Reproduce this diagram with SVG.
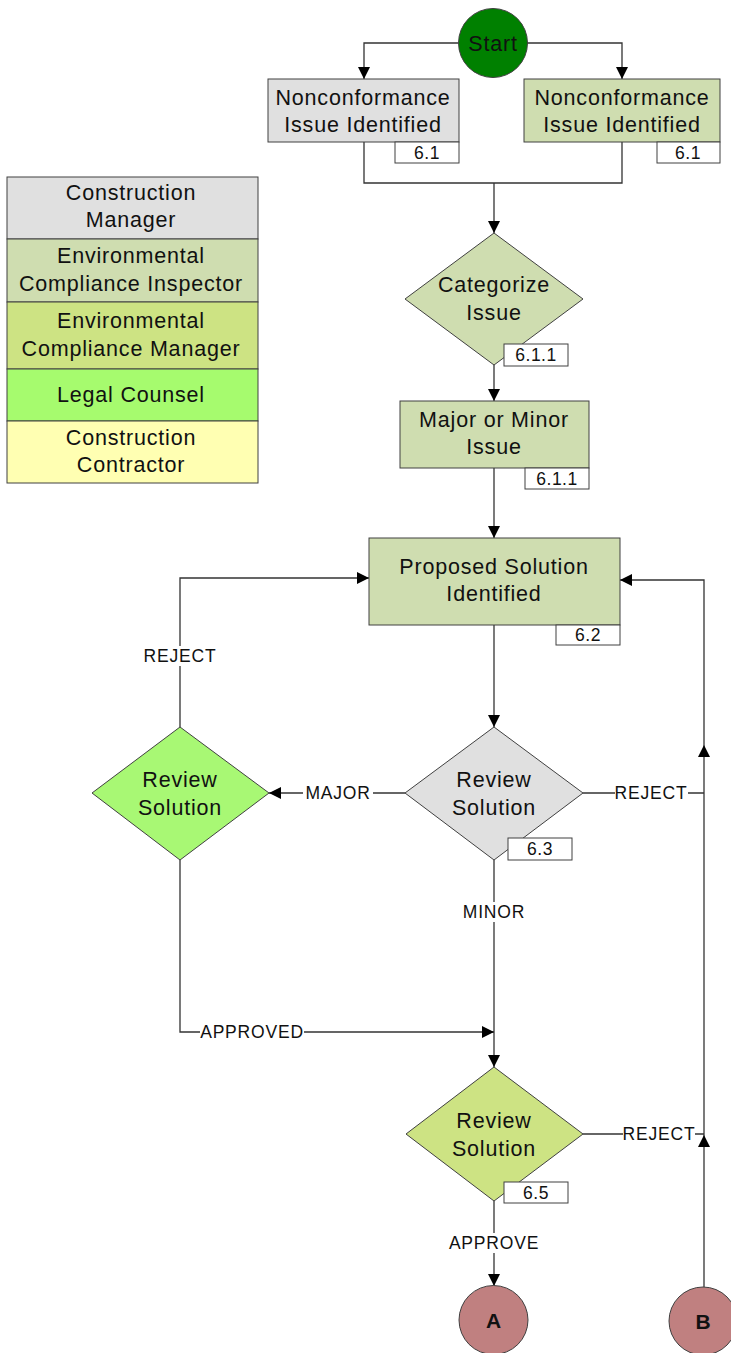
<svg xmlns="http://www.w3.org/2000/svg" width="731" height="1353" viewBox="0 0 731 1353">
<style>
text{font-family:"Liberation Sans",Arial,sans-serif;fill:#111;text-anchor:middle}
.n{font-size:21.5px;letter-spacing:0.8px}
.l{font-size:17.5px;letter-spacing:0.8px}
.t{font-size:17.5px;letter-spacing:0.5px}
.sh{stroke:#404040;stroke-width:1}
.tag{fill:#fff;stroke:#404040;stroke-width:1}
.c{fill:none;stroke:#333;stroke-width:1.3}
.lb{fill:#fff}
.cm{fill:#e0e0e0}.eci{fill:#cfddb0}.ecm{fill:#cde383}.lc{fill:#a6fb6e}.cc{fill:#ffffb2}
</style>
<defs>
<marker id="ah" viewBox="0 0 12 12" refX="12" refY="6" markerWidth="12" markerHeight="12" markerUnits="userSpaceOnUse" orient="auto">
<path d="M0,0 L12,6 L0,12 z" fill="#000"/>
</marker>
</defs>

<g id="legend">
<rect x="7" y="177" width="251" height="62" class="cm sh"/>
<rect x="7" y="239" width="251" height="63" class="eci sh"/>
<rect x="7" y="302" width="251" height="67" class="ecm sh"/>
<rect x="7" y="369" width="251" height="52" class="lc sh"/>
<rect x="7" y="421" width="251" height="62" class="cc sh"/>
<text class="n" x="131" y="200">Construction</text>
<text class="n" x="131" y="227">Manager</text>
<text class="n" x="131" y="263">Environmental</text>
<text class="n" x="131" y="291">Compliance Inspector</text>
<text class="n" x="131" y="328">Environmental</text>
<text class="n" x="131" y="356">Compliance Manager</text>
<text class="n" x="131" y="402">Legal Counsel</text>
<text class="n" x="131" y="445">Construction</text>
<text class="n" x="131" y="472">Contractor</text>
</g>

<g id="connectors">
<path class="c" d="M458,43 H364 V79" marker-end="url(#ah)"/>
<path class="c" d="M527,43 H622 V79" marker-end="url(#ah)"/>
<path class="c" d="M364,142 V183 H622 V142"/>
<path class="c" d="M494,183 V233" marker-end="url(#ah)"/>
<path class="c" d="M494,365 V401" marker-end="url(#ah)"/>
<path class="c" d="M494,468 V538" marker-end="url(#ah)"/>
<path class="c" d="M494,625 V727" marker-end="url(#ah)"/>
<path class="c" d="M405,793 H269" marker-end="url(#ah)"/>
<path class="c" d="M180,727 V578 H369" marker-end="url(#ah)"/>
<path class="c" d="M583,793 H704"/>
<path class="c" d="M494,860 V1067" marker-end="url(#ah)"/>
<path class="c" d="M180,860 V1032 H494" marker-end="url(#ah)"/>
<path class="c" d="M583,1134 H704"/>
<path class="c" d="M704,1287 V1135" marker-end="url(#ah)"/>
<path class="c" d="M704,1135 V745" marker-end="url(#ah)"/>
<path class="c" d="M704,745 V580 H620" marker-end="url(#ah)"/>
<path class="c" d="M494,1201 V1286" marker-end="url(#ah)"/>
<rect class="lb" x="303" y="783" width="70" height="20"/>
<text class="l" x="338" y="799">MAJOR</text>
<rect class="lb" x="143" y="646" width="74" height="20"/>
<text class="l" x="180" y="662">REJECT</text>
<rect class="lb" x="615" y="783" width="73" height="20"/>
<text class="l" x="651" y="799">REJECT</text>
<rect class="lb" x="463" y="902" width="62" height="20"/>
<text class="l" x="494" y="918">MINOR</text>
<rect class="lb" x="200" y="1022" width="104" height="20"/>
<text class="l" x="252" y="1038">APPROVED</text>
<rect class="lb" x="623" y="1124" width="72" height="20"/>
<text class="l" x="659" y="1140">REJECT</text>
<rect class="lb" x="450" y="1233" width="88" height="20"/>
<text class="l" x="494" y="1249">APPROVE</text>
</g>

<g id="start">
<circle cx="493" cy="43" r="34.5" fill="#008000" class="sh"/>
<text class="n" x="493" y="51">Start</text>
</g>

<g id="nc-cm">
<rect x="268" y="79" width="191" height="63" class="cm sh"/>
<text class="n" x="363" y="105">Nonconformance</text>
<text class="n" x="363" y="132">Issue Identified</text>
<rect x="395" y="142" width="64" height="21" class="tag"/>
<text class="t" x="427" y="159">6.1</text>
</g>

<g id="nc-eci">
<rect x="524" y="79" width="196" height="63" class="eci sh"/>
<text class="n" x="622" y="105">Nonconformance</text>
<text class="n" x="622" y="132">Issue Identified</text>
<rect x="657" y="142" width="63" height="21" class="tag"/>
<text class="t" x="688" y="159">6.1</text>
</g>

<g id="categorize">
<polygon points="494,233 583,299 494,365 405,299" class="eci sh"/>
<text class="n" x="494" y="292">Categorize</text>
<text class="n" x="494" y="320">Issue</text>
<rect x="504" y="344" width="64" height="22" class="tag"/>
<text class="t" x="536" y="361">6.1.1</text>
</g>

<g id="major-minor">
<rect x="400" y="401" width="189" height="67" class="eci sh"/>
<text class="n" x="494" y="427">Major or Minor</text>
<text class="n" x="494" y="454">Issue</text>
<rect x="525" y="468" width="64" height="21" class="tag"/>
<text class="t" x="557" y="485">6.1.1</text>
</g>

<g id="proposed">
<rect x="369" y="538" width="251" height="87" class="eci sh"/>
<text class="n" x="494" y="574">Proposed Solution</text>
<text class="n" x="494" y="601">Identified</text>
<rect x="556" y="625" width="64" height="20" class="tag"/>
<text class="t" x="588" y="641">6.2</text>
</g>

<g id="review-cm">
<polygon points="494,727 583,793 494,860 405,793" class="cm sh"/>
<text class="n" x="494" y="787">Review</text>
<text class="n" x="494" y="815">Solution</text>
<rect x="508" y="838" width="64" height="22" class="tag"/>
<text class="t" x="540" y="855">6.3</text>
</g>

<g id="review-lc">
<polygon points="180,727 269,793 180,860 92,793" fill="#a8f874" class="sh"/>
<text class="n" x="180" y="787">Review</text>
<text class="n" x="180" y="815">Solution</text>
</g>

<g id="review-ecm">
<polygon points="494,1067 583,1134 494,1201 406,1134" class="ecm sh"/>
<text class="n" x="494" y="1128">Review</text>
<text class="n" x="494" y="1156">Solution</text>
<rect x="504" y="1182" width="64" height="21" class="tag"/>
<text class="t" x="536" y="1199">6.5</text>
</g>

<g id="A">
<circle cx="493.5" cy="1320" r="34.5" fill="#c08080" class="sh"/>
<text x="493.5" y="1328" style="font-size:21px;font-weight:bold">A</text>
</g>

<g id="B">
<circle cx="703" cy="1321" r="34" fill="#c08080" class="sh"/>
<text x="703" y="1329" style="font-size:21px;font-weight:bold">B</text>
</g>
</svg>
